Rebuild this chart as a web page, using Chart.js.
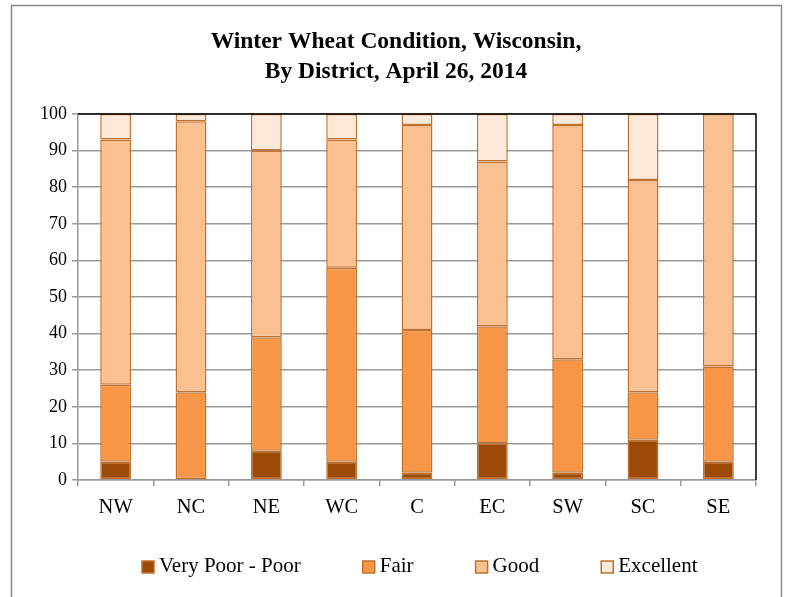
<!DOCTYPE html>
<html>
<head>
<meta charset="utf-8">
<script src="https://cdn.jsdelivr.net/npm/chart.js@4/dist/chart.umd.min.js"></script>
<style>
html,body{margin:0;padding:0;background:#fff;}
#wrap{position:relative;width:787px;height:597px;}
canvas{display:block;}
</style>
</head>
<body>
<div id="wrap"><canvas id="c" width="787" height="597"></canvas></div>
<script>
const titleLines = ['Winter Wheat Condition, Wisconsin,','By District, April 26, 2014'];
const districts = ['NW','NC','NE','WC','C','EC','SW','SC','SE'];
const veryPoorPoor = [5, 0, 8, 5, 2, 10, 2, 11, 5];
const fair         = [21, 24, 31, 53, 39, 32, 31, 13, 26];
const good         = [67, 74, 51, 35, 56, 45, 64, 58, 69];
const excellent    = [7, 2, 10, 7, 3, 13, 3, 18, 0];
const seriesNames  = ['Very Poor - Poor','Fair','Good','Excellent'];
const yTicks = [0,10,20,30,40,50,60,70,80,90,100];

const colors = ['#9C4A06','#F79646','#FAC090','#FDE9D9'];
const stroke = '#C0702F';
const serif = "'Liberation Serif','Times New Roman',serif";

const frame = {
  id:'frame',
  beforeDraw(chart){
    const ctx = chart.ctx;
    ctx.save();
    ctx.fillStyle='#fff';
    ctx.fillRect(0,0,chart.width,chart.height);
    ctx.strokeStyle='#888';
    ctx.lineWidth=1.5;
    ctx.strokeRect(11.5,5.5,770,620);
    ctx.restore();
  },
  afterDatasetsDraw(chart){
    const a = chart.chartArea, ctx = chart.ctx;
    ctx.save();
    ctx.strokeStyle='#000';
    ctx.lineWidth=1.5;
    ctx.beginPath();
    ctx.moveTo(a.left, a.top);
    ctx.lineTo(a.right, a.top);
    ctx.lineTo(a.right, a.bottom);
    ctx.stroke();
    ctx.restore();
  },
  afterDraw(chart){
    const ctx = chart.ctx;
    ctx.save();
    // title
    ctx.fillStyle='#000';
    ctx.textAlign='center';
    ctx.textBaseline='middle';
    ctx.font = "bold 23.5px " + serif;
    titleLines.forEach((t,i)=>ctx.fillText(t, 396, 42 + i*30));
    // legend
    ctx.font = "21px " + serif;
    ctx.textAlign='left';
    const box = 12, gapText = 5, gapItem = 62;
    const ds = chart.data.datasets;
    const widths = ds.map(d=>box+gapText+ctx.measureText(d.label).width);
    let x = 142;
    const cy = 566;
    ds.forEach((d,i)=>{
      ctx.fillStyle = d.backgroundColor;
      ctx.fillRect(x, cy-box/2+1, box, box);
      ctx.strokeStyle = stroke;
      ctx.lineWidth = 1.5;
      ctx.strokeRect(x, cy-box/2+1, box, box);
      ctx.fillStyle='#000';
      ctx.fillText(d.label, x+box+gapText, cy);
      x += widths[i] + gapItem;
    });
    ctx.restore();
  }
};

const data = [veryPoorPoor, fair, good, excellent];
new Chart(document.getElementById('c'), {
  type:'bar',
  data:{
    labels: districts,
    datasets: seriesNames.map((n,i)=>({
      label:n,
      data:data[i],
      backgroundColor:colors[i],
      borderColor:stroke,
      borderWidth:1.5,
      borderSkipped:false,
      barPercentage:0.41,
      categoryPercentage:1.0
    }))
  },
  options:{
    responsive:false,
    animation:false,
    devicePixelRatio:1,
    layout:{padding:{left:12,right:31,top:114,bottom:77}},
    plugins:{
      title:{display:false},
      legend:{display:false},
      tooltip:{enabled:false}
    },
    scales:{
      x:{
        stacked:true,
        grid:{offset:true,drawOnChartArea:false,drawTicks:true,tickLength:6,color:'#999',lineWidth:1.5},
        border:{color:'#999',width:1.5},
        ticks:{font:{family:serif,size:20.5},color:'#000',padding:9},
        afterFit(s){ s.height = 40; }
      },
      y:{
        stacked:true,
        min:0,max:100,
        afterBuildTicks(s){ s.ticks = yTicks.map(v=>({value:v})); },
        grid:{color:'#999',lineWidth:1.5,tickLength:6},
        border:{color:'#999',width:1.5},
        ticks:{font:{family:serif,size:18},color:'#000',padding:5},
        afterFit(s){ s.width = 66; }
      }
    }
  },
  plugins:[frame]
});
</script>
</body>
</html>
